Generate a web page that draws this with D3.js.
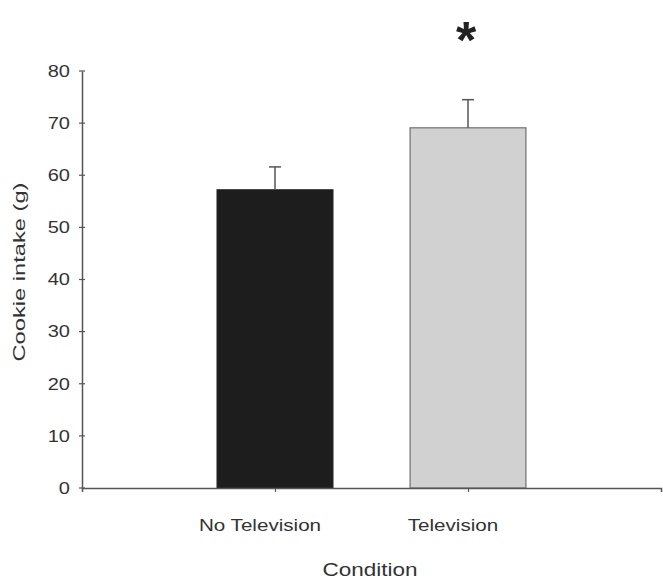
<!DOCTYPE html>
<html>
<head>
<meta charset="utf-8">
<script src="https://cdn.jsdelivr.net/npm/d3@7"></script>
<style>
  html, body { margin: 0; padding: 0; background: #fff; }
  svg { display: block; font-family: "Liberation Sans", Arial, sans-serif; }
</style>
</head>
<body>
<svg id="chart" width="663" height="579"></svg>
<script>
// Cookie intake by viewing condition (mean + upper SEM)
const categories = ["No Television", "Television"];
const means = [57.2, 69.1];
const sem = [4.4, 5.4];
const barColors = ["#1d1d1d", "#d1d1d1"];
const yTicks = [0, 10, 20, 30, 40, 50, 60, 70, 80];
const significance = ["", "*"];

const svg = d3.select("#chart");
const axisColor = "#555";
const textColor = "#333";
const stretch = 1.25; // horizontal stretch of the lettering

const x = d3.scaleLinear().domain([0, 3]).range([82, 661]);
const y = d3.scaleLinear().domain([0, 80]).range([488, 71]);
const barW = 0.6;

// helper: horizontally stretched text
function label(g, px, py, txt, opts = {}) {
  const t = g.append("g").attr("transform", `translate(${px},${py}) scale(${opts.sx || stretch},1)`)
    .append("text")
    .attr("text-anchor", opts.anchor || "middle")
    .attr("font-size", opts.size || 16)
    .attr("fill", textColor)
    .text(txt);
  if (opts.dy) t.attr("dy", opts.dy);
  return t;
}

// bars
svg.append("g").selectAll("rect")
  .data(categories)
  .join("rect")
  .attr("x", (d, i) => x(i + 1 - barW / 2))
  .attr("width", x(barW) - x(0))
  .attr("y", (d, i) => y(means[i]))
  .attr("height", (d, i) => y(0) - y(means[i]))
  .attr("fill", (d, i) => barColors[i])
  .attr("stroke", (d, i) => i === 0 ? "#1d1d1d" : "#6f6f6f")
  .attr("stroke-width", 1.2);

// upper error bars
const eb = svg.append("g").attr("stroke", "#555").attr("stroke-width", 1.5);
categories.forEach((c, i) => {
  const cx = x(i + 1);
  eb.append("line").attr("x1", cx).attr("x2", cx)
    .attr("y1", y(means[i])).attr("y2", y(means[i] + sem[i]));
  eb.append("line").attr("x1", cx - 6).attr("x2", cx + 6)
    .attr("y1", y(means[i] + sem[i])).attr("y2", y(means[i] + sem[i]));
});

// y axis
const yAxis = svg.append("g").attr("transform", `translate(${x(0)},0)`)
  .call(d3.axisLeft(y).tickValues(yTicks).tickSize(0).tickFormat(""));
yAxis.select(".domain").attr("stroke", axisColor).attr("stroke-width", 1.5);
yAxis.selectAll(".tick line").remove();
yTicks.forEach(v => {
  yAxis.append("line").attr("x1", -3).attr("x2", 3)
    .attr("y1", y(v)).attr("y2", y(v))
    .attr("stroke", axisColor).attr("stroke-width", 1.2);
  label(yAxis, -12, y(v), v, { anchor: "end", dy: "0.36em" });
});

// x axis
const xAxis = svg.append("g").attr("transform", `translate(0,${y(0)})`)
  .call(d3.axisBottom(x).tickValues([1, 2]).tickSize(4).tickFormat(""));
xAxis.select(".domain").attr("stroke", axisColor).attr("stroke-width", 1.5);
xAxis.selectAll(".tick line").attr("stroke", axisColor).attr("stroke-width", 1.2);
categories.forEach((c, i) => {
  label(xAxis, x(i + 1) - 15, 43, c, { size: 16.5 });
});

// significance marker
categories.forEach((c, i) => {
  if (significance[i]) {
    svg.append("text")
      .attr("x", x(i + 1) - 2).attr("y", 58)
      .attr("text-anchor", "middle")
      .attr("font-size", 52).attr("font-weight", "bold")
      .attr("fill", "#222")
      .text(significance[i]);
  }
});

// axis titles
label(svg, 370, 576, "Condition", { size: 18 });
svg.append("text")
  .attr("transform", "translate(25,272) rotate(-90)")
  .attr("text-anchor", "middle")
  .attr("font-size", 17)
  .attr("fill", textColor)
  .attr("textLength", 179)
  .attr("lengthAdjust", "spacingAndGlyphs")
  .text("Cookie intake (g)");
</script>
</body>
</html>
